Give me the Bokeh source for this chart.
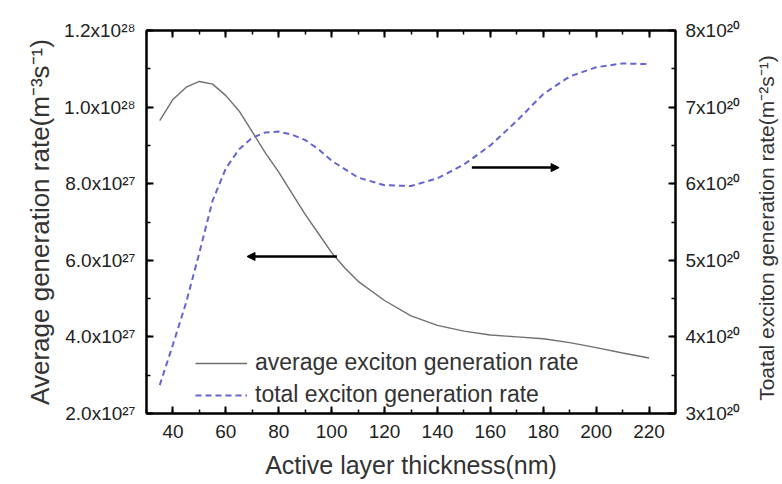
import math
from bokeh.plotting import figure
from bokeh.layouts import row
from bokeh.models import (Range1d, LinearAxis, Arrow, NormalHead, Legend,
                          LegendItem, FixedTicker)
from bokeh.core.properties import value
from bokeh.embed import file_html
from bokeh.resources import INLINE

# ---- data -------------------------------------------------------------
# average exciton generation rate, left axis, in units of 1e27 m^-3 s^-1
thickness_avg = [35, 40, 45, 50, 55, 60, 65, 70, 75, 80, 85, 90, 95, 100,
                 105, 110, 120, 130, 140, 150, 160, 170, 180, 190, 200, 210, 220]
avg_rate = [9.65, 10.2, 10.52, 10.67, 10.6, 10.3, 9.9, 9.35, 8.8, 8.3, 7.75,
            7.2, 6.7, 6.2, 5.8, 5.45, 4.95, 4.55, 4.3, 4.15, 4.05, 4.0, 3.95,
            3.85, 3.72, 3.58, 3.45]

# total exciton generation rate, right axis, in units of 1e20 m^-2 s^-1
thickness_tot = [35, 40, 45, 50, 55, 60, 65, 70, 75, 80, 85, 90, 95, 100,
                 110, 120, 130, 140, 150, 160, 170, 180, 190, 200, 210, 220]
total_rate = [3.37, 3.9, 4.45, 5.1, 5.78, 6.2, 6.45, 6.6, 6.67, 6.68, 6.64,
              6.57, 6.45, 6.3, 6.08, 5.98, 5.97, 6.07, 6.25, 6.5, 6.82, 7.17,
              7.4, 7.52, 7.57, 7.56]

x_ticks = [40, 60, 80, 100, 120, 140, 160, 180, 200, 220]
left_ticks = [2, 4, 6, 8, 10, 12]
left_tick_labels = ["2.0x10²⁷", "4.0x10²⁷", "6.0x10²⁷", "8.0x10²⁷",
                    "1.0x10²⁸", "1.2x10²⁸"]
right_ticks = [3, 4, 5, 6, 7, 8]
right_tick_labels = ["3x10²⁰", "4x10²⁰", "5x10²⁰", "6x10²⁰", "7x10²⁰", "8x10²⁰"]

right_title = ["Toatal exciton generation rate(m⁻²s⁻¹)"]

# arrows pointing to the respective axes
left_arrow = dict(x_start=102, x_end=68, y=6.1)
right_arrow = dict(x_start=153, x_end=186, y=6.21)

FONT = "Liberation Sans"

p = figure(width=751, height=483,
           min_border_left=146, min_border_right=76,
           min_border_top=30, min_border_bottom=70,
           x_range=Range1d(30, 230), y_range=Range1d(2, 12),
           output_backend="svg", toolbar_location=None)
p.extra_y_ranges = {"right": Range1d(3, 8)}
p.grid.visible = False
p.outline_line_color = "black"
p.outline_line_width = 2
p.background_fill_color = "white"
p.border_fill_color = "white"


def style_axis(ax):
    ax.axis_line_color = "black"
    ax.axis_line_width = 2
    ax.major_tick_in = 7
    ax.major_tick_out = 0
    ax.minor_tick_in = 4
    ax.minor_tick_out = 0
    ax.major_tick_line_width = 2
    ax.minor_tick_line_width = 1.5
    ax.major_tick_line_color = "black"
    ax.minor_tick_line_color = "black"
    ax.major_label_text_font = FONT
    ax.major_label_text_font_size = "19px"
    ax.major_label_text_color = "#222222"
    ax.axis_label_text_font = FONT
    ax.axis_label_text_font_style = "normal"
    ax.axis_label_text_color = "#333333"


# bottom axis
xa = p.xaxis[0]
xa.ticker = FixedTicker(ticks=x_ticks, minor_ticks=list(range(30, 231, 10)))
style_axis(xa)
xa.axis_label = "Active layer thickness(nm)"
xa.axis_label_text_font_size = "25px"
xa.major_label_standoff = 11
xa.axis_label_standoff = 10

# left axis
ya = p.yaxis[0]
ya.ticker = FixedTicker(ticks=left_ticks, minor_ticks=list(range(2, 13)))
ya.major_label_overrides = {t: l for t, l in zip(left_ticks, left_tick_labels)}
style_axis(ya)
ya.axis_label = "Average generation rate(m⁻³s⁻¹)"
ya.axis_label_text_font_size = "26px"
ya.major_label_standoff = 11
ya.axis_label_standoff = 6

# right axis (its title is drawn in a narrow strip so it reads bottom-to-top)
ra = LinearAxis(y_range_name="right",
                ticker=FixedTicker(ticks=right_ticks,
                                   minor_ticks=[3 + 0.5 * i for i in range(11)]))
ra.major_label_overrides = {t: l for t, l in zip(right_ticks, right_tick_labels)}
style_axis(ra)
ra.major_label_standoff = 10
p.add_layout(ra, "right")

# top axis (ticks only, labels not drawn)
ta = LinearAxis(ticker=FixedTicker(ticks=x_ticks,
                                   minor_ticks=list(range(30, 231, 10))))
style_axis(ta)
ta.major_label_text_font_size = "1px"
ta.major_label_text_color = None
ta.major_label_text_alpha = 0
ta.major_label_standoff = 0
p.add_layout(ta, "above")

# curves
r_avg = p.line(thickness_avg, avg_rate, line_color="#6f6f6f", line_width=1.4)
r_tot = p.line(thickness_tot, total_rate, y_range_name="right",
               line_color="#6464d2", line_width=2, line_dash="6 4")

# arrows
p.add_layout(Arrow(end=NormalHead(size=8, fill_color="black", line_color="black"),
                   x_start=left_arrow["x_start"], y_start=left_arrow["y"],
                   x_end=left_arrow["x_end"], y_end=left_arrow["y"],
                   line_color="black", line_width=2.5))
p.add_layout(Arrow(end=NormalHead(size=8, fill_color="black", line_color="black"),
                   x_start=right_arrow["x_start"], y_start=right_arrow["y"],
                   x_end=right_arrow["x_end"], y_end=right_arrow["y"],
                   line_color="black", line_width=2.5, y_range_name="right"))

legend = Legend(items=[LegendItem(label="average exciton generation rate", renderers=[r_avg]),
                       LegendItem(label="total exciton generation rate", renderers=[r_tot])],
                location=(49, 5), border_line_alpha=0, background_fill_alpha=0,
                label_text_font=FONT, label_text_font_size="23px",
                label_text_color="#333333",
                glyph_width=52, glyph_height=24, label_height=24,
                spacing=5, padding=0, margin=0, label_standoff=8)
p.add_layout(legend)

# narrow strip carrying the right-hand axis title (no axes, frame = whole strip)
pt = figure(width=30, height=483, x_range=Range1d(-1, 1), y_range=Range1d(0, 483),
            x_axis_location=None, y_axis_location=None,
            min_border=0, output_backend="svg", toolbar_location=None)
pt.grid.visible = False
pt.outline_line_color = None
pt.background_fill_color = "white"
pt.border_fill_color = "white"
pt.text(x=[0], y=[16], text=right_title, angle=math.pi / 2,
        text_align="left", text_baseline="middle",
        text_font=value(FONT), text_font_size="21px", text_color="#333333")

layout = row(p, pt, spacing=0)
open("out.html", "w").write(file_html(layout, INLINE))
